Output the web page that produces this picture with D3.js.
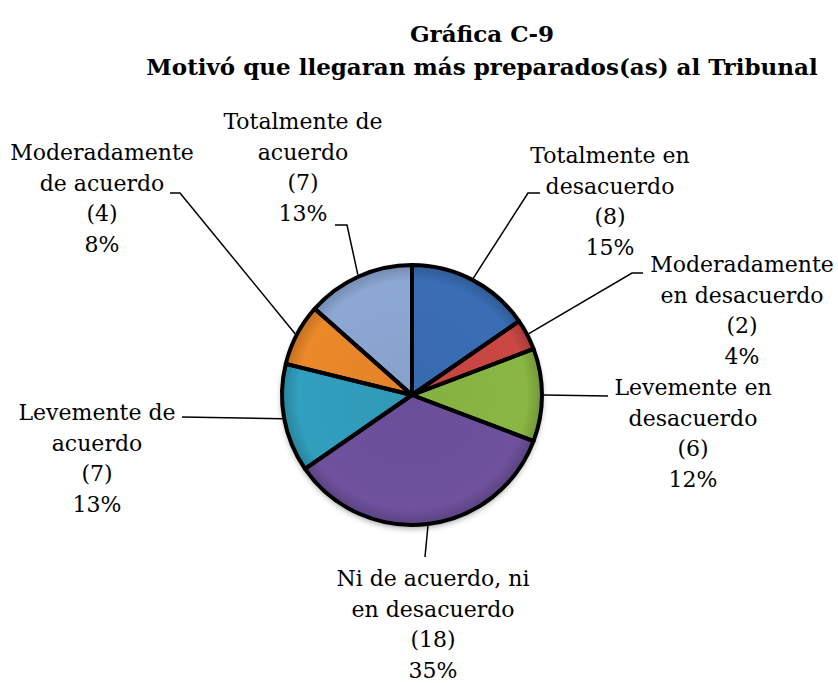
<html>
  <head>
    <script src="https://d3js.org/d3.v7.min.js"></script>
    <style>
      body { margin: 0; background: #fff; }
      text { font-family: "DejaVu Serif", serif; fill: #000; }
    </style>
  </head>
  <body>
    <script type="text/javascript">
      // data, clockwise from 12 o'clock
      var categories = [
        "Totalmente en desacuerdo",
        "Moderadamente en desacuerdo",
        "Levemente en desacuerdo",
        "Ni de acuerdo, ni en desacuerdo",
        "Levemente de acuerdo",
        "Moderadamente de acuerdo",
        "Totalmente de acuerdo"
      ];
      var counts = [8, 2, 6, 18, 7, 4, 7];
      var percentLabels = ["15%", "4%", "12%", "35%", "13%", "8%", "13%"];
      // how each category label wraps
      var labelLines = [
        ["Totalmente en", "desacuerdo"],
        ["Moderadamente", "en desacuerdo"],
        ["Levemente en", "desacuerdo"],
        ["Ni de acuerdo, ni", "en desacuerdo"],
        ["Levemente de", "acuerdo"],
        ["Moderadamente", "de acuerdo"],
        ["Totalmente de", "acuerdo"]
      ];
      var colors = ["#3a70b8", "#cf4a45", "#8cbb45", "#7152a1", "#31a2c2", "#f08b2c", "#8fabd8"];

      // label placement (text centre, first baseline) and leader elbows
      var labelLayout = [
        {x: 610, y: 163, pts: [[528, 193], [540, 193]]},
        {x: 742, y: 272, pts: [[632, 273], [643, 273]]},
        {x: 693, y: 395, pts: [[608, 396]]},
        {x: 433, y: 586, pts: [[425, 557]]},
        {x: 97,  y: 420, pts: [[182, 417]]},
        {x: 102, y: 160, pts: [[180, 193], [170, 193]]},
        {x: 303, y: 129, pts: [[347, 225], [335, 225]]}
      ];

      var width = 838, height = 683;
      var cx = 412, cy = 395, radius = 130;
      var lineGap = 30.5;

      var svg = d3.select("body").append("svg")
          .attr("width", width)
          .attr("height", height);

      var defs = svg.append("defs");
      var shadow = defs.append("filter").attr("id", "shadow")
          .attr("x", "-20%").attr("y", "-20%").attr("width", "140%").attr("height", "140%");
      shadow.append("feDropShadow")
          .attr("dx", 0).attr("dy", 3).attr("stdDeviation", 3)
          .attr("flood-color", "#000").attr("flood-opacity", 0.4);

      // soft bevel: darker toward the rim
      var rg = defs.append("radialGradient").attr("id", "bevel")
          .attr("gradientUnits", "userSpaceOnUse")
          .attr("cx", 0).attr("cy", 0).attr("r", radius);
      rg.append("stop").attr("offset", "0%").attr("stop-color", "#000").attr("stop-opacity", 0.06);
      rg.append("stop").attr("offset", "88%").attr("stop-color", "#000").attr("stop-opacity", 0.02);
      rg.append("stop").attr("offset", "100%").attr("stop-color", "#000").attr("stop-opacity", 0.2);

      // title
      var title = svg.append("g").attr("class", "title");
      title.append("text")
          .attr("x", 482).attr("y", 42)
          .attr("text-anchor", "middle")
          .style("font-weight", "bold").style("font-size", "23px")
          .text("Gráfica C-9");
      title.append("text")
          .attr("x", 482).attr("y", 75)
          .attr("text-anchor", "middle")
          .style("font-weight", "bold").style("font-size", "23px")
          .text("Motivó que llegaran más preparados(as) al Tribunal");

      var pie = d3.pie().sort(null).value(function(d) { return d; });
      var arcs = pie(counts);
      var arc = d3.arc().innerRadius(0).outerRadius(radius);

      var g = svg.append("g")
          .attr("transform", "translate(" + cx + "," + cy + ")");

      var slices = g.append("g").attr("filter", "url(#shadow)");
      slices.selectAll(".slice")
        .data(arcs)
        .enter().append("path")
          .attr("class", "slice")
          .attr("d", arc)
          .attr("fill", function(d, i) { return colors[i]; });

      g.append("g").selectAll(".shade")
        .data(arcs)
        .enter().append("path")
          .attr("class", "shade")
          .attr("d", arc)
          .attr("fill", "url(#bevel)");

      g.append("g").selectAll(".edge")
        .data(arcs)
        .enter().append("path")
          .attr("class", "edge")
          .attr("d", arc)
          .attr("fill", "none")
          .attr("stroke", "#000")
          .attr("stroke-width", 4)
          .attr("stroke-linejoin", "round");

      // leader lines from the slice mid-angle on the rim
      var line = d3.line();
      svg.append("g").selectAll(".leader")
        .data(arcs)
        .enter().append("path")
          .attr("class", "leader")
          .attr("fill", "none")
          .attr("stroke", "#000")
          .attr("stroke-width", 1.5)
          .attr("d", function(d, i) {
            var a = (d.startAngle + d.endAngle) / 2;
            var start = [cx + Math.sin(a) * (radius + 2), cy - Math.cos(a) * (radius + 2)];
            return line([start].concat(labelLayout[i].pts));
          });

      // labels
      var labels = svg.append("g").selectAll(".label")
        .data(arcs)
        .enter().append("text")
          .attr("class", "label")
          .attr("text-anchor", "middle")
          .style("font-size", "22px");

      labels.each(function(d, i) {
        var rows = labelLines[i].concat(["(" + counts[i] + ")", percentLabels[i]]);
        var t = d3.select(this);
        rows.forEach(function(r, k) {
          t.append("tspan")
            .attr("x", labelLayout[i].x)
            .attr("y", labelLayout[i].y + k * lineGap)
            .text(r);
        });
      });
    </script>
  </body>
</html>
